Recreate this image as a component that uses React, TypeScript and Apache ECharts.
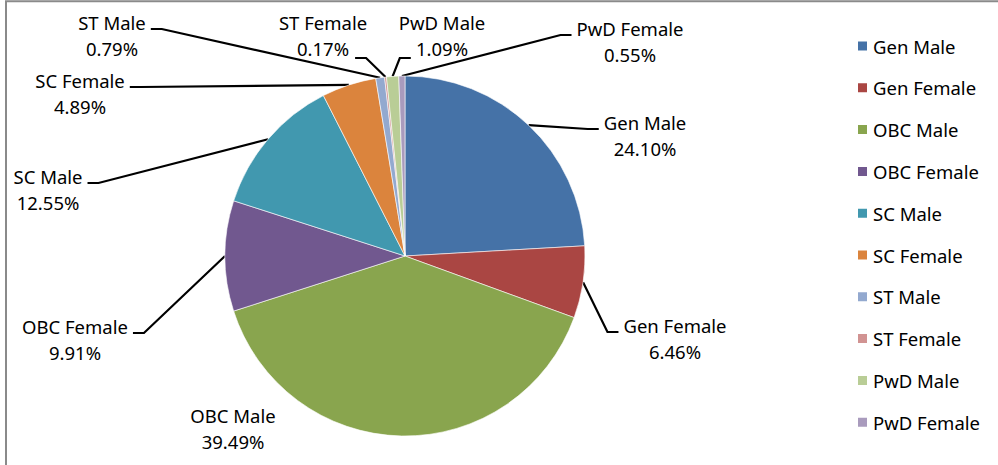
import React, { useEffect, useRef } from "react";
import * as echarts from "echarts";

const categories = [
  "Gen Male",
  "Gen Female",
  "OBC Male",
  "OBC Female",
  "SC Male",
  "SC Female",
  "ST Male",
  "ST Female",
  "PwD Male",
  "PwD Female",
];
const shares = [24.1, 6.46, 39.49, 9.91, 12.55, 4.89, 0.79, 0.17, 1.09, 0.55];
const colors = [
  "#4572A7",
  "#AA4643",
  "#89A54E",
  "#71588F",
  "#4198AF",
  "#DB843D",
  "#93A9CF",
  "#D19392",
  "#B9CD96",
  "#A99BBD",
];

// Layout only: centre of each label block and how its leader attaches
const labelCenters: number[][] = [
  [645, 135],
  [675, 338],
  [233, 428],
  [75, 339],
  [48, 189],
  [80, 93],
  [112, 35],
  [323, 35],
  [442, 35],
  [630, 41],
];
const attachMode = [
  "left",
  "left",
  "none",
  "right",
  "right",
  "right",
  "right",
  "bottomRight",
  "bottomLeft",
  "left",
];

const FONT = "'Noto Sans', sans-serif";

export default function App() {
  const ref = useRef<HTMLDivElement>(null);

  useEffect(() => {
    if (!ref.current) return;
    const chart = echarts.init(ref.current, undefined, { renderer: "svg" });
    const data = categories.map((name, i) => {
      const item: any = { name, value: shares[i], itemStyle: { color: colors[i] } };
      if (attachMode[i] === "none") item.labelLine = { show: false };
      return item;
    });
    chart.setOption({
      animation: false,
      backgroundColor: "#ffffff",
      graphic: [
        {
          type: "rect",
          shape: { x: 6, y: 1.3, width: 1200, height: 700 },
          style: { fill: "none", stroke: "#8a8a8a", lineWidth: 2 },
          silent: true,
        },
      ],
      legend: {
        orient: "vertical",
        left: 851,
        top: 31,
        icon: "rect",
        itemWidth: 11,
        itemHeight: 11,
        itemGap: 21.8,
        selectedMode: false,
        data: categories,
        textStyle: { fontSize: 18.5, lineHeight: 20, color: "#000", fontFamily: FONT },
      },
      series: [
        {
          type: "pie",
          center: [405, 256],
          radius: 180,
          startAngle: 90,
          clockwise: true,
          avoidLabelOverlap: false,
          emphasis: { disabled: true },
          itemStyle: { borderColor: "#ffffff", borderWidth: 0.6 },
          label: {
            show: true,
            position: "outside",
            formatter: (p: any) => `${p.name}\n${Number(p.value).toFixed(2)}%`,
            fontSize: 18.5,
            lineHeight: 26,
            fontFamily: FONT,
            color: "#000",
            align: "center",
          },
          labelLine: {
            show: true,
            length: 10,
            length2: 10,
            smooth: false,
            lineStyle: { color: "#000", width: 2.2 },
          },
          labelLayout: (p: any) => {
            const i = p.dataIndex;
            const [cx, cy] = labelCenters[i];
            const w = p.labelRect.width;
            const h = p.labelRect.height;
            const res: any = { x: cx, y: cy, align: "center", verticalAlign: "middle" };
            const pts = p.labelLinePoints;
            const mode = attachMode[i];
            if (pts && pts.length && mode !== "none") {
              const p0 = pts[0];
              let end: number[] = [cx, cy];
              let elbow: number[] = [cx, cy];
              if (mode === "left") {
                end = [cx - w / 2 - 5, cy - 6];
                elbow = [end[0] - 11, end[1]];
              } else if (mode === "right") {
                end = [cx + w / 2 + 5, cy - 6];
                elbow = [end[0] + 11, end[1]];
              } else if (mode === "bottomRight") {
                end = [cx + w / 2 - 12, cy + h / 2 - 3];
                elbow = [end[0] + 11, end[1]];
              } else if (mode === "bottomLeft") {
                end = [cx - w / 2 + 12, cy + h / 2 - 3];
                elbow = [end[0] - 11, end[1]];
              }
              res.labelLinePoints = [p0, elbow, end];
            }
            return res;
          },
          data,
        },
      ],
    });
    return () => chart.dispose();
  }, []);

  return (
    <div
      ref={ref}
      style={{ position: "absolute", left: 0, top: 0, width: 998, height: 465 }}
    />
  );
}
